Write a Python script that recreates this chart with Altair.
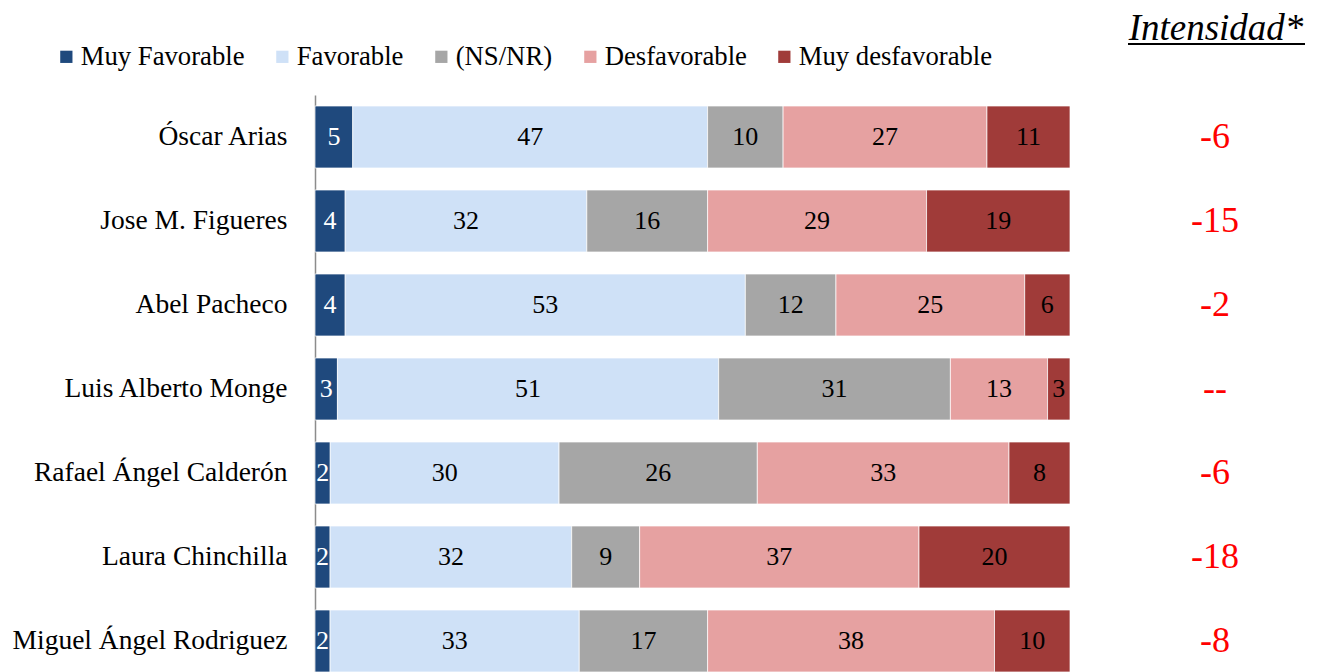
import altair as alt
import pandas as pd

candidates = ["Óscar Arias", "Jose M. Figueres", "Abel Pacheco", "Luis Alberto Monge",
              "Rafael Ángel Calderón", "Laura Chinchilla", "Miguel Ángel Rodriguez"]
categories = ["Muy Favorable", "Favorable", "(NS/NR)", "Desfavorable", "Muy desfavorable"]
muy_favorable = [5, 4, 4, 3, 2, 2, 2]
favorable = [47, 32, 53, 51, 30, 32, 33]
ns_nr = [10, 16, 12, 31, 26, 9, 17]
desfavorable = [27, 29, 25, 13, 33, 37, 38]
muy_desfavorable = [11, 19, 6, 3, 8, 20, 10]
intensidad = ["-6", "-15", "-2", "--", "-6", "-18", "-8"]
colors = ["#1F497D", "#CFE1F7", "#A6A6A6", "#E6A1A1", "#A03B39"]

series = [muy_favorable, favorable, ns_nr, desfavorable, muy_desfavorable]
rows = []
for ci, cat in enumerate(categories):
    for i, cand in enumerate(candidates):
        rows.append({"candidate": cand, "category": cat, "order": ci, "value": series[ci][i]})
df = pd.DataFrame(rows)
df_int = pd.DataFrame({"candidate": candidates, "intensidad": intensidad})

FONT = "Liberation Serif"

base = alt.Chart(df).transform_joinaggregate(
    total="sum(value)", groupby=["candidate"]
).transform_stack(
    stack="value", groupby=["candidate"], as_=["s0", "s1"],
    sort=[alt.SortField("order", order="ascending")]
).transform_calculate(
    p0="datum.s0 / datum.total",
    p1="datum.s1 / datum.total",
    mid="(datum.s0 + datum.s1) / 2 / datum.total",
)

yenc = alt.Y("candidate:N", sort=candidates,
             scale=alt.Scale(paddingInner=0.262, paddingOuter=0.131),
             axis=alt.Axis(title=None, ticks=False, labelPadding=28, labelFontSize=27.5,
                           labelFont=FONT, labelColor="black", domainColor="#8C8C8C",
                           domainWidth=1.5, labelLimit=400))

bars = base.mark_bar(stroke="#FFFFFF", strokeWidth=1, strokeOpacity=0.7).encode(
    x=alt.X("p0:Q", scale=alt.Scale(domain=[0, 1], nice=False), axis=None),
    x2="p1:Q",
    y=yenc,
    color=alt.Color("category:N", scale=alt.Scale(domain=categories, range=colors),
                    legend=alt.Legend(title=None, orient="none", direction="horizontal",
                                      legendX=-262, legendY=-52, symbolType="square",
                                      symbolSize=150, symbolStrokeWidth=0,
                                      labelFont=FONT, labelFontSize=26.7, labelColor="black",
                                      columnPadding=24, labelOffset=1, labelLimit=400)),
)

labels = base.mark_text(font=FONT, fontSize=26).encode(
    x=alt.X("mid:Q"),
    y=alt.Y("candidate:N", sort=candidates),
    text="value:Q",
    color=alt.condition(alt.datum.category == "Muy Favorable", alt.value("white"), alt.value("black")),
)

intens = alt.Chart(df_int).mark_text(font=FONT, fontSize=36, color="#FF0000").encode(
    x=alt.value(900),
    y=alt.Y("candidate:N", sort=candidates),
    text="intensidad:N",
)

title_df = pd.DataFrame({"t": ["Intensidad*"]})
title_txt = alt.Chart(title_df).mark_text(font=FONT, fontSize=37, fontStyle="italic",
                                          color="black", align="center", baseline="alphabetic").encode(
    x=alt.value(901), y=alt.value(-55), text="t:N"
)
underline = alt.Chart(title_df).mark_rule(color="black", strokeWidth=2).encode(
    x=alt.value(813), x2=alt.value(990), y=alt.value(-51)
)

chart = alt.layer(bars, labels, intens, title_txt, underline).properties(
    width=755, height=588,
    autosize=alt.AutoSizeParams(type="none"),
    padding={"left": 307, "top": 87, "right": 245, "bottom": 0},
).configure_view(stroke=None).resolve_scale(color="independent")

chart.save("out.html", embed_options={"renderer": "svg", "actions": False})
